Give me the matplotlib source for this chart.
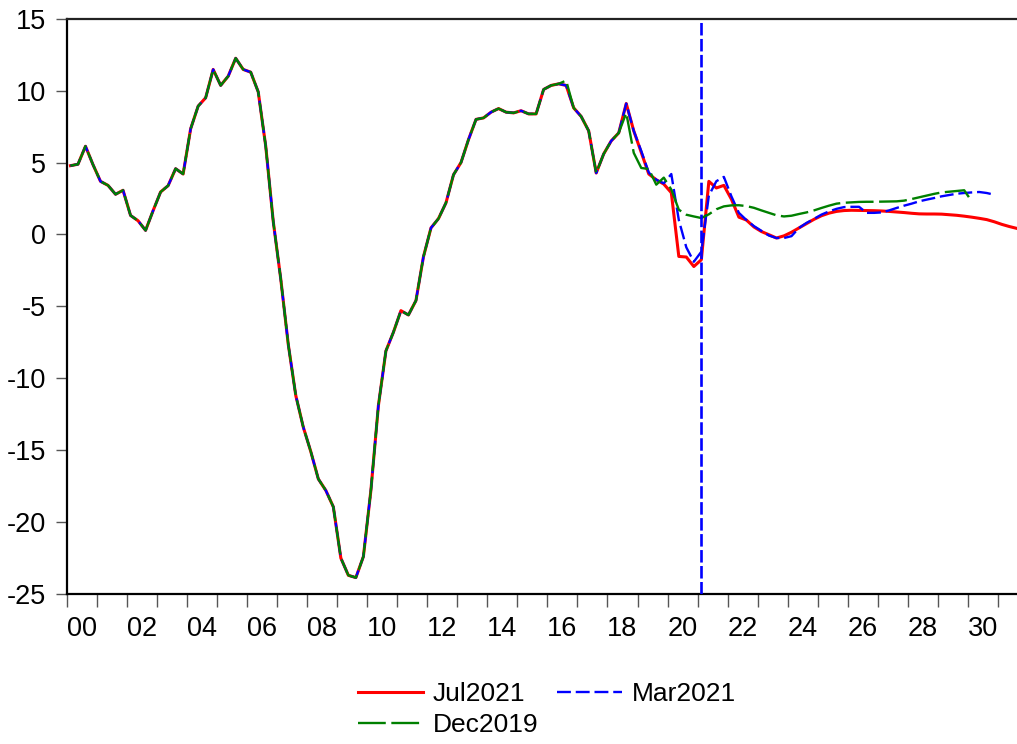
import numpy as np
import matplotlib
matplotlib.use("Agg")
import matplotlib.pyplot as plt
from matplotlib.ticker import FixedLocator, NullFormatter, FixedFormatter

plt.rcParams['font.family'] = ['Liberation Sans', 'DejaVu Sans']
plt.rcParams['axes.unicode_minus'] = False
plt.rcParams['lines.scale_dashes'] = False

start_year = 2000  # first observation: 2000Q1, quarterly data

# Common history 2000Q1 .. 2016Q2 (shared by all vintages)
history = [4.78, 4.88, 6.13, 4.85, 3.69, 3.41, 2.79, 3.07, 1.32, 0.95,
           0.28, 1.65, 2.95, 3.39, 4.57, 4.20, 7.34, 8.92, 9.50, 11.47,
           10.36, 11.00, 12.25, 11.47, 11.28, 9.91, 6.13, 0.90, -3.10, -7.65,
           -11.20, -13.40, -15.10, -17.00, -17.80, -18.94, -22.50, -23.70, -23.86, -22.40,
           -17.80, -11.90, -8.10, -6.80, -5.30, -5.60, -4.60, -1.55, 0.45, 1.10,
           2.20, 4.15, 5.00, 6.60, 8.00, 8.10, 8.50, 8.75, 8.50, 8.45,
           8.60, 8.38, 8.38, 10.08, 10.36, 10.47]

# Vintage-specific tails (from 2016Q3 onward)
jul2021_tail = [10.36, 8.80, 8.20, 7.20, 4.27, 5.60, 6.50, 7.06, 9.10, 7.20,
                5.70, 4.20, 3.80, 3.50, 2.90, -1.53, -1.57, -2.23, -1.76, 3.69,
                3.23, 3.41, 2.45, 1.20, 1.00, 0.52, 0.20, -0.02, -0.25, -0.10,
                0.15, 0.45, 0.75, 1.05, 1.30, 1.48, 1.60, 1.66, 1.68, 1.67,
                1.66, 1.65, 1.63, 1.60, 1.56, 1.52, 1.47, 1.43, 1.42, 1.42,
                1.41, 1.37, 1.33, 1.27, 1.20, 1.12, 1.03, 0.88, 0.70, 0.55,
                0.42]
mar2021_tail = [10.36, 8.80, 8.20, 7.20, 4.27, 5.60, 6.50, 7.06, 9.10, 7.20,
                5.80, 4.30, 3.80, 3.55, 4.20, 1.00, -0.90, -1.90, -1.20, 2.70,
                3.70, 4.00, 2.65, 1.50, 1.00, 0.58, 0.25, -0.08, -0.25, -0.25,
                -0.12, 0.45, 0.80, 1.08, 1.38, 1.60, 1.78, 1.90, 1.92, 1.92,
                1.50, 1.50, 1.53, 1.67, 1.84, 2.00, 2.14, 2.30, 2.42, 2.53,
                2.65, 2.74, 2.83, 2.88, 2.92, 2.95, 2.88, 2.76]
dec2019_tail = [10.70, 8.80, 8.20, 7.20, 4.27, 5.60, 6.50, 7.06, 8.45, 5.67,
                4.62, 4.55, 3.46, 3.95, 3.12, 1.72, 1.37, 1.25, 1.14, 1.40,
                1.75, 1.95, 2.02, 2.03, 1.97, 1.85, 1.67, 1.50, 1.33, 1.25,
                1.30, 1.42, 1.53, 1.67, 1.84, 2.00, 2.14, 2.20, 2.23, 2.26,
                2.27, 2.27, 2.28, 2.29, 2.30, 2.35, 2.46, 2.58, 2.70, 2.82,
                2.92, 2.97, 3.02, 3.07, 2.30]

jul2021 = np.array(history + jul2021_tail)
mar2021 = np.array(history + mar2021_tail)
dec2019 = np.array(history + dec2019_tail)

series_names = ["Jul2021", "Mar2021", "Dec2019"]
vline_date = (2021, 1)  # Mar2021 vintage marker, 2021Q1

y_ticks = [-25, -20, -15, -10, -5, 0, 5, 10, 15]
y_tick_labels = ["-25", "-20", "-15", "-10", "-5", "0", "5", "10", "15"]
x_label_years = list(range(2000, 2031, 2))
x_tick_labels = ["00", "02", "04", "06", "08", "10", "12", "14", "16",
                 "18", "20", "22", "24", "26", "28", "30"]


def qdates(n):
    idx = np.arange(n)
    return start_year + idx / 4.0 + 0.125


fig = plt.figure(figsize=(10.17, 7.44), dpi=100)
ax = fig.add_axes([0.0656, 0.2016, 0.9364, 0.9749 - 0.2016])

l_jul, = ax.plot(qdates(len(jul2021)), jul2021, color="#ff0000", lw=2.2,
                 solid_joinstyle="round", zorder=3)
l_mar, = ax.plot(qdates(len(mar2021)), mar2021, color="#0000ff", lw=1.7,
                 dashes=(10, 3.5), zorder=4)
l_dec, = ax.plot(qdates(len(dec2019)), dec2019, color="#008000", lw=1.7,
                 dashes=(20, 4), zorder=5)

vx = vline_date[0] + (vline_date[1] - 1) / 4.0 + 0.125
ax.axvline(vx, color="#0000ff", lw=1.9, dashes=(9, 2.5), zorder=6)

ax.set_ylim(-25, 15)
ax.set_xlim(2000.0, 2031.7)

ax.yaxis.set_major_locator(FixedLocator(y_ticks))
ax.yaxis.set_major_formatter(FixedFormatter(y_tick_labels))

ax.xaxis.set_major_locator(FixedLocator(list(range(2000, 2032))))
ax.xaxis.set_major_formatter(NullFormatter())
ax.xaxis.set_minor_locator(FixedLocator([y + 0.5 for y in x_label_years]))
ax.xaxis.set_minor_formatter(FixedFormatter(x_tick_labels))

ax.tick_params(axis="y", which="major", direction="out", length=8, width=1,
               color="#555555", labelsize=19.5, pad=7)
ax.tick_params(axis="x", which="major", direction="out", length=9, width=1,
               color="#555555")
ax.tick_params(axis="x", which="minor", length=0, labelsize=19.5, pad=16)

for side in ["left", "bottom"]:
    ax.spines[side].set_linewidth(1.6)
    ax.spines[side].set_color("black")
ax.spines["top"].set_linewidth(1.6)
ax.spines["top"].set_color("#222222")
ax.spines["right"].set_visible(False)

fig.legend([l_jul, l_dec, l_mar], ["Jul2021", "Dec2019", "Mar2021"],
           ncol=2, loc="upper left", bbox_to_anchor=(0.352, 0.083),
           frameon=False, fontsize=19, handlelength=2.45, handletextpad=0.38,
           columnspacing=0.72, labelspacing=0.27, borderpad=0, borderaxespad=0)

fig.savefig("out.png", dpi=100)
